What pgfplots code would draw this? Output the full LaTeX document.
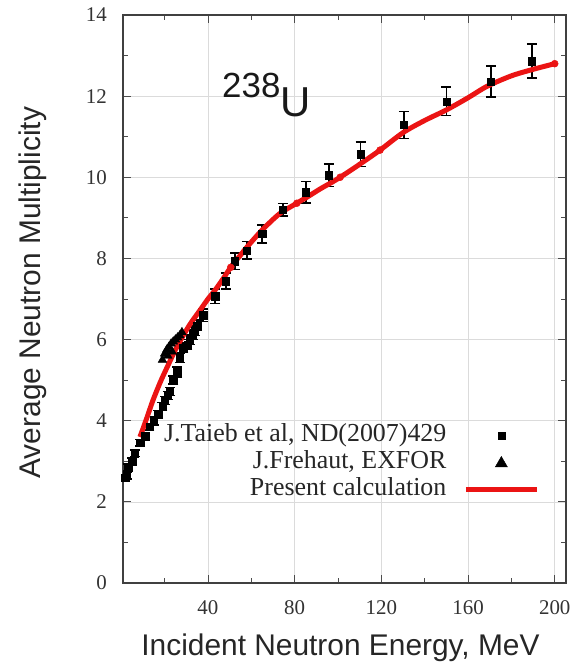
\documentclass[border=0pt]{standalone}
\usepackage{pgfplots}
\pgfplotsset{compat=1.18}
\usepackage{fontspec}
\setmainfont{Liberation Serif}
\newfontfamily\arial{Liberation Sans}
\definecolor{myred}{RGB}{235,20,20}
\pgfplotsset{
  sqleg/.style={legend image code/.code={\draw[##1] plot coordinates {(35.5bp,0bp)};}},
  trileg/.style={legend image code/.code={\draw[##1, mark size=7bp] plot coordinates {(35.5bp,-1bp)};}},
  lineleg/.style={legend image code/.code={\draw[##1] (0bp,0bp) -- (71bp,0bp);}},
}
\begin{document}
\begin{tikzpicture}
\begin{axis}[
  name=ax,
  scale only axis,
  width=443bp, height=568bp,
  xmin=0.8, xmax=205.2, ymin=0, ymax=14,
  xtick={40,80,120,160,200},
  ytick={0,2,4,6,8,10,12,14},
  minor xtick={20,60,100,140,180},
  minor ytick={1,3,5,7,9,11,13},
  tick align=inside,
  major tick length=8bp, minor tick length=5bp,
  tick style={black!70, line width=0.9bp},
  axis line style={black!75, line width=1.1bp},
  grid=major,
  major grid style={black!14, line width=0.7bp},
  /pgf/number format/assume math mode=true,
  ticklabel style={font=\fontsize{21}{21}\selectfont, text=black!80, inner sep=0pt},
  xticklabel style={anchor=north, yshift=-17bp},
  yticklabel style={anchor=east, xshift=-16bp},
  xlabel={Incident Neutron Energy, MeV},
  ylabel={Average Neutron Multiplicity},
  label style={font=\arial\fontsize{30}{30}\selectfont, text=black!85, inner sep=0pt},
  xlabel style={at={(axis description cs:0.5,0)}, anchor=north, yshift=-51bp, xshift=-4bp},
  ylabel style={at={(axis description cs:-0.2032,0.511)}, anchor=center},
  legend style={at={(axis cs:193,3.95)}, anchor=north east, draw=none, fill=none,
    inner sep=0pt, row sep=2bp,
    font=\fontsize{26}{26}\selectfont,
    nodes={inner sep=1bp, text height=18bp, text depth=5bp, text=black!85},
    /tikz/every odd column/.append style={column sep=16bp}},
  legend cell align=right,
  legend plot pos=right,
]
% J.Taieb et al
\addplot[only marks, mark=square*, mark size=3.6bp, black, sqleg,
  error bars/.cd, y dir=both, y explicit,
  error bar style={line width=1.6bp, black},
  error mark options={rotate=90, mark size=5bp, line width=1.6bp, black}]
  coordinates {
  (1.5,2.6) +- (0,0.08)
  (2.6,2.65) +- (0,0.08)
  (3.2,2.85) +- (0,0.08)
  (5,3.0) +- (0,0.08)
  (6.3,3.2) +- (0,0.08)
  (8.7,3.46) +- (0,0.08)
  (11,3.62) +- (0,0.08)
  (13,3.85) +- (0,0.08)
  (15,4.0) +- (0,0.1)
  (17,4.15) +- (0,0.1)
  (19,4.35) +- (0,0.1)
  (20.2,4.5) +- (0,0.1)
  (21.5,4.62) +- (0,0.1)
  (22.5,4.72) +- (0,0.1)
  (24,5.0) +- (0,0.1)
  (25.8,5.2) +- (0,0.12)
  (27,5.55) +- (0,0.12)
  (28.6,5.8) +- (0,0.12)
  (30.5,5.88) +- (0,0.12)
  (31.7,6.0) +- (0,0.12)
  (33,6.12) +- (0,0.12)
  (34,6.22) +- (0,0.12)
  (35,6.35) +- (0,0.13)
  (37.8,6.6) +- (0,0.15)
  (43.3,7.07) +- (0,0.18)
  (48.3,7.44) +- (0,0.2)
  (52.5,7.93) +- (0,0.2)
  (58,8.2) +- (0,0.22)
  (65,8.6) +- (0,0.22)
  (74.6,9.2) +- (0,0.15)
  (85.2,9.63) +- (0,0.27)
  (95.8,10.05) +- (0,0.28)
  (110.4,10.57) +- (0,0.3)
  (130.4,11.29) +- (0,0.33)
  (150,11.87) +- (0,0.35)
  (170.6,12.36) +- (0,0.38)
  (189.5,12.86) +- (0,0.42)
  };
\addlegendentry{J.Taieb et al, ND(2007)429}
% J.Frehaut
\addplot[only marks, mark=triangle*, mark size=5bp, black, trileg]
  coordinates {
  (19,5.5) (20,5.65) (21,5.75) (22,5.82) (23,5.9) (24,5.95)
  (25,6.0) (26,6.05) (27,6.1) (28,6.18) (21.5,5.6) (23.5,5.7)
  };
\addlegendentry{J.Frehaut, EXFOR}
% Present calculation
\addplot[myred, line width=5bp, smooth, no marks, lineleg]
  coordinates {
  (8.6,3.6) (10,3.8) (12,4.1) (14.6,4.5) (18,4.95) (21,5.3)
  (25,5.75) (28.6,6.1) (32,6.4) (36.3,6.72) (40,7.0) (43.3,7.22)
  (47,7.5) (51,7.82) (55,8.08) (58,8.28) (65,8.7) (73,9.1)
  (80,9.33) (86,9.52) (92,9.72) (99.5,9.95) (110,10.32) (119.4,10.67)
  (130,11.1) (140,11.4) (150,11.66) (160,11.96) (168.7,12.24)
  (180,12.5) (190,12.66) (200,12.8)
  };
\addlegendentry{Present calculation}
\addplot[only marks, mark=*, mark size=3.5bp, myred, forget plot]
  coordinates {(50.5,7.78) (81,9.36) (101,10.0) (119.4,10.67) (200,12.8)};
\node[anchor=base west, inner sep=0pt, text=black!90] at (axis cs:46.5,11.51)
  {\arial\raisebox{19bp}{\fontsize{35}{35}\selectfont 238}\fontsize{42}{42}\selectfont U};
\end{axis}
\path (ax.south west) ++(-123bp,-85bp) coordinate (bl);
\path (ax.north east) ++(15bp,15bp) coordinate (tr);
\path (bl) rectangle (tr);
\end{tikzpicture}
\end{document}
